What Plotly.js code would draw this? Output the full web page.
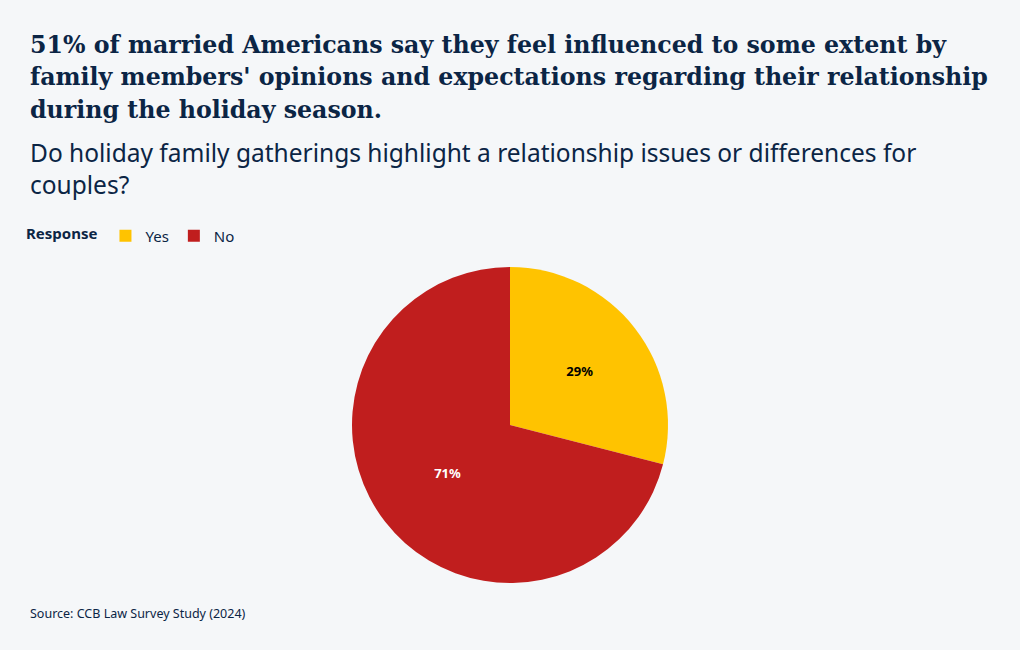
<!DOCTYPE html>
<html>
<head>
<meta charset="utf-8">
<script src="https://cdn.plot.ly/plotly-3.0.1.min.js"></script>
<style>html,body{margin:0;padding:0;background:#f5f7f9;}</style>
</head>
<body>
<div id="chart" style="width:1020px;height:650px;"></div>
<script>
const labels = ["Yes", "No"];
const values = [29, 71];
const colors = ["#FFC300", "#C01E1E"];
const textColors = ["#000000", "#ffffff"];
const titleLines = [
  "51% of married Americans say they feel influenced to some extent by",
  "family members' opinions and expectations regarding their relationship",
  "during the holiday season."
];

const W = 1020, H = 650, MT = 267, MB = 67;
const PH = H - MT - MB;
function py(p) { return (H - MB - p) / PH; }
function px(p) { return p / W; }

const navy = "#0b2545";

const data = [{
  type: "pie",
  labels: labels,
  values: values,
  sort: false,
  direction: "clockwise",
  rotation: 0,
  marker: { colors: colors, line: { width: 0 } },
  textinfo: "percent",
  texttemplate: "<b>%{percent:.0%}</b>",
  textposition: "inside",
  insidetextfont: { family: "Noto Sans, sans-serif", size: 13, color: textColors },
  hoverinfo: "label+percent",
  showlegend: true
}];

const annotations = titleLines.map((t, i) => ({
  text: "<b>" + t + "</b>",
  xref: "paper", yref: "paper", x: px(28), y: py(45 + i * 32.5), xanchor: "left", yanchor: "middle",
  align: "left", showarrow: false,
  font: { family: "DejaVu Serif, serif", size: 23.7, color: navy }
}));
annotations.push(
  {
    text: "Do holiday family gatherings highlight a relationship issues or differences for<br>couples?",
    xref: "paper", yref: "paper", x: px(28), y: py(134), xanchor: "left", yanchor: "top",
    align: "left", showarrow: false,
    font: { family: "Noto Sans, sans-serif", size: 24.5, color: navy }
  },
  {
    text: "Source: CCB Law Survey Study (2024)",
    xref: "paper", yref: "paper", x: px(28), y: py(613), xanchor: "left", yanchor: "middle",
    align: "left", showarrow: false,
    font: { family: "Noto Sans, sans-serif", size: 12.5, color: navy }
  }
);

const layout = {
  width: W, height: H,
  paper_bgcolor: "#f5f7f9",
  plot_bgcolor: "#f5f7f9",
  margin: { l: 0, r: 0, t: MT, b: MB },
  showlegend: true,
  legend: {
    orientation: "h",
    x: px(24), xanchor: "left",
    y: py(236), yanchor: "middle",
    title: { text: "<b>Response</b>", side: "left", font: { family: "Noto Sans, sans-serif", size: 15, color: navy } },
    font: { family: "Noto Sans, sans-serif", size: 15, color: navy },
    itemwidth: 30,
    bgcolor: "rgba(0,0,0,0)"
  },
  annotations: annotations
};

Plotly.newPlot("chart", data, layout, { displayModeBar: false });
</script>
</body>
</html>
